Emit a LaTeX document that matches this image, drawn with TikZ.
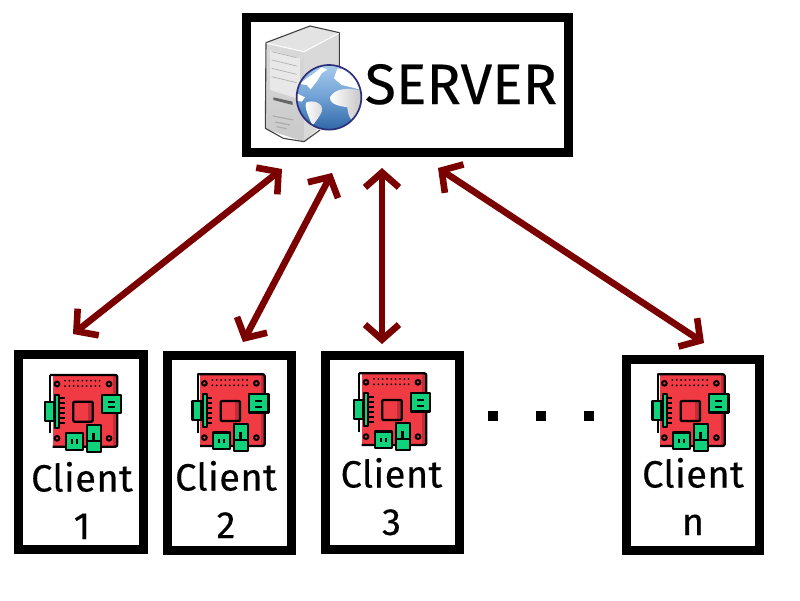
\documentclass[tikz,border=0pt]{standalone}
\usepackage{fontspec}
\setmainfont{Fira Sans}[FakeBold=0.3]
\usetikzlibrary{arrows.meta}
\definecolor{dred}{HTML}{7B0000}
\definecolor{pired}{HTML}{F03A44}
\definecolor{pidark}{HTML}{C22C38}
\definecolor{pigreen}{HTML}{0FD27A}
\definecolor{globeedge}{HTML}{2E2F7A}
\definecolor{oceantop}{HTML}{A8CBEC}
\definecolor{oceanmid}{HTML}{6FA0D4}
\definecolor{oceanbot}{HTML}{2F68A8}
\tikzset{
  frame/.style={draw=black,line width=9pt,fill=white,rectangle,inner sep=0pt},
  link/.style={draw=dred,line width=6.6pt,{Straight Barb[length=15pt,width=34pt]}-{Straight Barb[length=15pt,width=34pt]}},
  clienttext/.style={font=\fontsize{38}{47.5}\selectfont\addfontfeature{LetterSpace=1.2},align=center,anchor=base,inner sep=0pt},
  pist/.style={draw=black,line width=2.3pt,line join=round},
  dot/.style={fill=black,rectangle,minimum size=10pt,inner sep=0pt},
  land/.style={fill=white,draw=none}
}
% Raspberry Pi style board, drawn in 1/3 px units from an origin
\newcommand{\piboard}[2]{%
\begin{scope}[shift={(#1,#2)},x=0.3333pt,y=-0.3333pt]
  \fill[white] (30,15) rectangle (40,230);
  \fill[pired] (38,15) rectangle (232,230);
  \fill[pidark] (220,18) rectangle (232,228);
  \draw[pist,rounded corners=2pt] (30,15) -- (232,15) -- (232,230) -- (38,230);
  \draw[pist] (31,15) -- (31,190);
  \foreach \px in {51,207} \foreach \py in {42,205} {\draw[line width=2pt,fill=pired] (\px,\py) circle (7);}
  \foreach \px in {75,88,...,190} {\fill (\px,32) circle (3); \fill (\px,48) circle (3);}
  \fill[white] (22,196) rectangle (28,201); \fill[white] (22,210) rectangle (28,215);
  \draw[pist,fill=pigreen] (15,95) rectangle (42,152);
  \draw[pist,fill=pigreen] (46,75) rectangle (58,173);
  \foreach \py in {85,100,...,160} {\draw[line width=1.8pt] (58,\py) -- (75,\py);}
  \fill[pidark] (144,95) rectangle (158,155);
  \draw[pist,rounded corners=1pt] (100,95) rectangle (158,155);
  \draw[pist,fill=pigreen] (185,75) rectangle (243,130);
  \draw[line width=2pt] (203,95) -- (225,95) (203,112) -- (225,112);
  \draw[pist,fill=pigreen] (77,190) rectangle (128,240);
  \fill (92,208) rectangle (98,222); \fill (107,208) rectangle (113,222);
  \draw[pist,fill=pigreen] (140,165) rectangle (182,246);
  \draw[line width=2pt] (140,213) -- (182,213);
  \fill (156,188) rectangle (164,213);
\end{scope}}
\begin{document}
\begin{tikzpicture}[x=1pt,y=-1pt]
\useasboundingbox (0,0) rectangle (800,600);
\fill[white] (0,0) rectangle (800,600);
% boxes
\node[frame,minimum width=322pt,minimum height=135pt] (server) at (407.5,85) {};
\node[frame,minimum width=125pt,minimum height=195pt] (c1) at (81,452) {};
\node[frame,minimum width=124pt,minimum height=195pt] (c2) at (229.5,453) {};
\node[frame,minimum width=134pt,minimum height=194pt] (c3) at (392.5,452.5) {};
\node[frame,minimum width=133pt,minimum height=191pt] (cn) at (693,455) {};
% server tower
\begin{scope}[shift={(240,10)},x=0.3333pt,y=-0.3333pt]
  \fill[gray!22] (78,98) -- (210,48) -- (298,68) -- (192,125) -- cycle;
  \fill[gray!30] (192,125) -- (298,68) -- (298,300) -- (192,395) -- cycle;
  \shade[top color=gray!30,bottom color=gray!42] (78,98) -- (192,125) -- (192,395) -- (78,358) -- cycle;
  \fill[gray!18] (90,120) -- (180,145) -- (180,268) -- (90,240) -- cycle;
  \draw[gray!60,line width=0.7pt] (95,125) -- (170,143) (95,150) -- (170,168) (95,175) -- (170,193) (95,200) -- (170,218);
  \draw[black!75,line width=1.1pt,line join=round] (78,98) -- (210,48) -- (298,68) -- (298,280) (78,98) -- (76,355) -- (130,385) -- (192,395) -- (240,360);
  \draw[white,line width=1pt] (80,100) -- (192,125) -- (296,70);
  \fill[gray!80!black] (100,262) -- (158,275) -- (158,285) -- (100,270) -- cycle;
  \draw[gray!65,line width=1.2pt] (98,318) -- (160,330) (105,336) -- (150,345) (110,350) -- (140,356);
  % globe
  \begin{scope}
    \clip (267,262) circle (97);
    \shade[top color=oceantop,bottom color=oceanbot,middle color=oceanmid] (170,165) rectangle (364,359);
    \fill[land] (178,222) -- (200,205) -- (222,190) -- (245,172) -- (262,178) -- (245,190) -- (232,212) -- (212,238) -- (200,225) -- cycle;
    \fill[land] (292,176) -- (330,180) -- (355,205) -- (364,240) -- (335,232) -- (305,225) -- (282,205) -- cycle;
    \shade[left color=white,right color=gray!45] (270,262) .. controls (285,235) and (320,232) .. (364,242) -- (364,320) .. controls (335,350) and (325,320) .. (322,292) .. controls (300,288) and (270,285) .. (270,262) -- cycle;
    \shade[left color=white,right color=gray!30] (198,278) .. controls (220,268) and (248,280) .. (248,300) .. controls (238,320) and (228,335) .. (216,348) .. controls (210,322) and (193,300) .. (198,278) -- cycle;
    \fill[land] (170,250) -- (195,262) -- (185,275) -- (170,272) -- cycle;
  \end{scope}
  \draw[globeedge,line width=1.7pt] (267,262) circle (97);
\end{scope}
\node[font=\fontsize{57}{57}\selectfont,anchor=base,inner sep=0pt] (servertext) at (461,104) {SERVER};
% boards
\piboard{40}{370}
\piboard{187.4}{369.3}
\piboard{349}{368.3}
\piboard{647.4}{369.3}
% labels
\node[clienttext] (t1) at (82,539) {Client\\1};
\node[clienttext] (t2) at (226,538) {Client\\2};
\node[clienttext] (t3) at (391.5,535) {Client\\3};
\node[clienttext] (tn) at (693,535) {Client\\n};
% dots
\node[dot] (d1) at (493,416) {};
\node[dot] (d2) at (541,416) {};
\node[dot] (d3) at (589,416) {};
% connector ends
\coordinate (s1) at (282,169);
\coordinate (s2) at (332,173);
\coordinate (s3) at (382,168);
\coordinate (s4) at (438,168);
\coordinate (e1) at (73,334);
\coordinate (e2) at (243,342);
\coordinate (e3) at (382,344);
\coordinate (e4) at (704,343);
\draw[link] (e1) -- (s1);
\draw[link] (e2) -- (s2);
\draw[link] (e3) -- (s3);
\draw[link] (e4) -- (s4);
\end{tikzpicture}
\end{document}
